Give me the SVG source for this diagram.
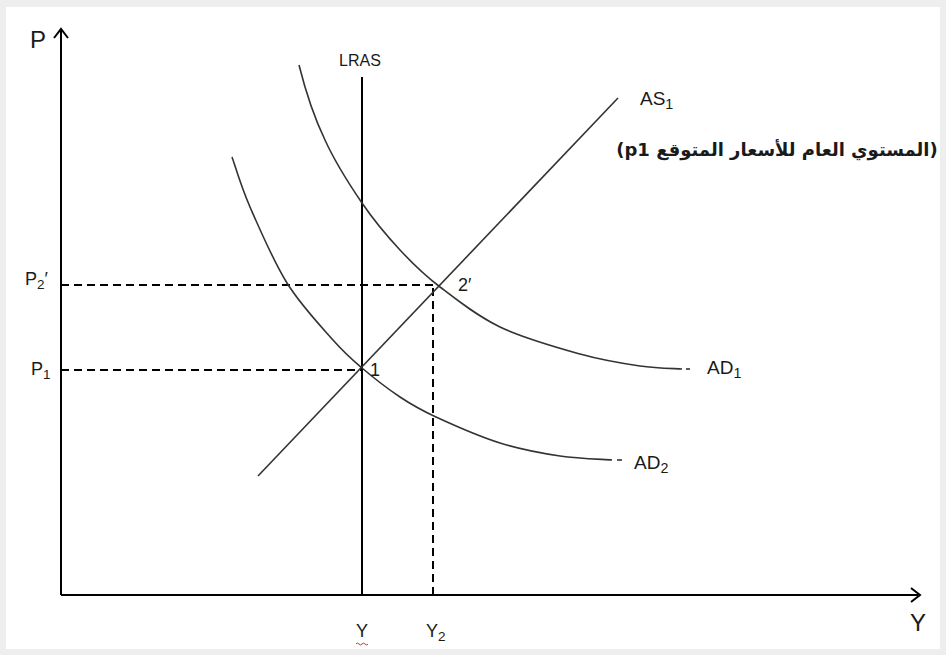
<svg xmlns="http://www.w3.org/2000/svg" width="946" height="655" viewBox="0 0 946 655">
<style>
.ax{stroke:#000;stroke-width:2;fill:none}
.cv{stroke:#333;stroke-width:1.6;fill:none}
.ds{stroke:#000;stroke-width:2;fill:none;stroke-dasharray:8 5}
.lb{font-family:"Liberation Sans","DejaVu Sans",sans-serif;fill:#1a1a1a}
.sub{font-size:75%}
</style>
<rect x="0" y="0" width="946" height="655" fill="#eeeeee"/>
<rect x="6" y="7" width="934" height="642" fill="#ffffff"/>

<g id="axes">
<line class="ax" x1="61" y1="595" x2="61" y2="30"/>
<polyline class="ax" points="54,38 61,29 68,38"/>
<line class="ax" x1="61" y1="595" x2="918" y2="595"/>
<polyline class="ax" points="911,588 920,595 911,602"/>
<text class="lb" x="30" y="48" font-size="24">P</text>
<text class="lb" x="918" y="631" font-size="24" text-anchor="middle">Y</text>
</g>

<g id="connectors">
<line class="ds" x1="61" y1="285" x2="437" y2="285"/>
<line class="ds" x1="61" y1="370" x2="362" y2="370"/>
<line class="ds" x1="433" y1="288" x2="433" y2="595"/>
</g>

<g id="lras">
<line class="ax" x1="362" y1="77" x2="362" y2="595"/>
<text class="lb" x="360" y="66" font-size="16" text-anchor="middle">LRAS</text>
</g>

<g id="as1">
<line class="cv" x1="258" y1="476" x2="618" y2="98"/>
<text class="lb" x="640" y="105" font-size="19">AS<tspan class="sub" dy="4">1</tspan></text>
<text x="777" y="156" font-size="18" font-weight="bold" text-anchor="middle" direction="rtl" style="direction:rtl;unicode-bidi:embed" font-family="DejaVu Sans, sans-serif" fill="#1a1a1a">(المستوي العام للأسعار المتوقع p1)</text>
</g>

<g id="ad1">
<path class="cv" d="M299,65 C304,85 313,115 325,140 C335.5,163 349.5,184.7 362,203 C374.5,221.3 387,236 400,250 C413,264 423.3,274.2 440,287 C456.7,299.8 476.7,315.8 500,327 C523.3,338.2 556.7,347.5 580,354 C603.3,360.5 623,363.5 640,366 C657,368.5 675,368.5 682,369"/>
<line class="cv" x1="686" y1="369" x2="690" y2="369"/>
<text class="lb" x="707" y="374" font-size="19">AD<tspan class="sub" dy="4">1</tspan></text>
</g>

<g id="ad2">
<path class="cv" d="M232,157 C235,165.3 240.8,186 250,207 C259.2,228 273.2,260.8 287,283 C300.8,305.2 320.5,325.8 333,340 C345.5,354.2 350.8,358.5 362,368 C373.2,377.5 387.7,388.8 400,397 C412.3,405.2 419.3,409.3 436,417 C452.7,424.7 479.3,436.5 500,443 C520.7,449.5 541.3,453.2 560,456 C578.7,458.8 603.3,459.3 612,460"/>
<line class="cv" x1="617" y1="460" x2="622" y2="460"/>
<text class="lb" x="634" y="469" font-size="19">AD<tspan class="sub" dy="4">2</tspan></text>
</g>

<g id="point1">
<text class="lb" x="370" y="376" font-size="18">1</text>
<text class="lb" x="31" y="375" font-size="18">P<tspan class="sub" dy="4">1</tspan></text>
</g>

<g id="point2">
<text class="lb" x="458" y="291" font-size="18">2′</text>
<text class="lb" x="25" y="285" font-size="18">P<tspan class="sub" dy="4">2</tspan><tspan dy="-4">′</tspan></text>
</g>

<g id="xlabels">
<text class="lb" x="362" y="637" font-size="18" text-anchor="middle">Y</text>
<path d="M356,644 q1.5,-2 3,0 t3,0 t3,0 t3,0" stroke="#c0392b" stroke-width="1" fill="none"/>
<text class="lb" x="426" y="637" font-size="18">Y<tspan class="sub" dy="4">2</tspan></text>
</g>
</svg>
